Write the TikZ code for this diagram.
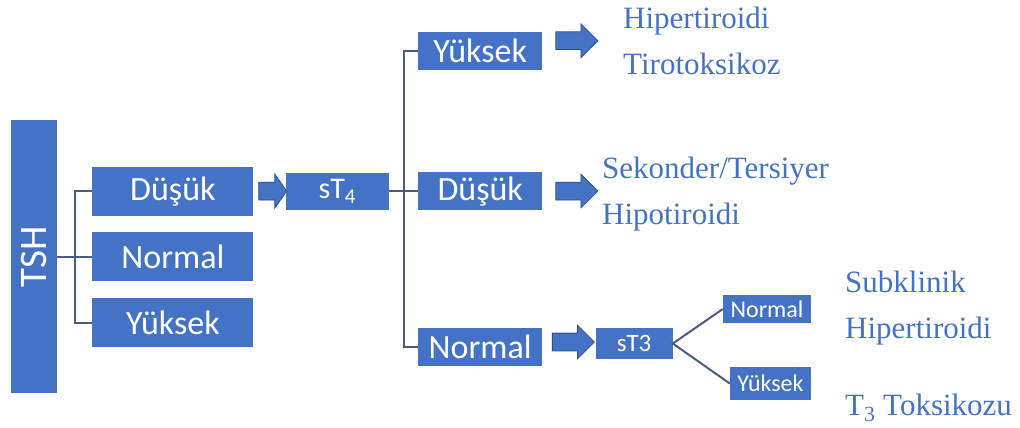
\documentclass[tikz,border=0pt]{standalone}
\usepackage{graphicx}
\usepackage{fontspec}
\setmainfont{Carlito}
\newfontfamily\resultfont{Liberation Serif}
\usetikzlibrary{positioning, shapes.arrows, calc}
\definecolor{boxblue}{HTML}{4472C4}
\definecolor{edgeblue}{HTML}{2F528F}
\definecolor{linkgray}{HTML}{4A5C85}
\newcommand{\boxfont}[1]{\fontsize{#1}{#1}\selectfont}
\newcommand{\levelgap}{16pt}
\newcommand{\arrowgap}{13pt}

\begin{document}
\begin{tikzpicture}[
    x=1pt, y=-1pt,
    tshbox/.style={
        rectangle,
        fill=boxblue,
        text=white,
        inner sep=0pt,
        minimum width=46pt,
        minimum height=273pt,
        font=\boxfont{39}
    },
    lvlbox/.style={
        rectangle,
        fill=boxblue,
        text=white,
        inner sep=0pt,
        minimum width=161pt,
        minimum height=49pt,
        font=\boxfont{34}
    },
    midbox/.style={lvlbox, minimum width=124pt, minimum height=38pt},
    testbox/.style={lvlbox, minimum width=103pt, minimum height=37pt, font=\boxfont{30}},
    tinybox/.style={lvlbox, minimum width=84pt, minimum height=30pt, font=\boxfont{24}},
    fatarrow/.style={
        single arrow,
        fill=boxblue,
        draw=edgeblue,
        line width=0.8pt,
        inner xsep=0pt,
        inner ysep=8.5pt,
        minimum width=33pt,
        minimum height=42pt,
        single arrow head extend=8pt
    },
    link/.style={draw=linkgray, line width=2pt},
    result/.style={
        anchor=north west,
        align=left,
        inner sep=0pt,
        text=boxblue,
        font=\resultfont\fontsize{31}{46}\selectfont
    }
]
    \useasboundingbox (0,0) rectangle (1020,428);

    % --- TSH and its three levels ---
    \node[tshbox] (tsh) at (34,256.5) {\rotatebox{90}{TSH}};
    \node[lvlbox, right=35pt of tsh] (normal1) {Normal};
    \node[lvlbox, above=\levelgap of normal1] (dusuk1) {Düşük};
    \node[lvlbox, below=17pt of normal1] (yuksek1) {Yüksek};

    \coordinate (tjoin) at ($(tsh.east)!0.5!(normal1.west)$);
    \draw[link] (dusuk1.west) -| (tjoin) |- (yuksek1.west);
    \draw[link] (tsh.east) -- (normal1.west);

    % --- sT4 branch ---
    \node[testbox, right=32pt of dusuk1] (st4) {sT\textsubscript{4}};
    \node[fatarrow, minimum height=28pt, single arrow tip angle=110] (arr1)
        at ($(dusuk1.east)!0.5!(st4.west)$) {};

    \node[midbox, right=29pt of st4] (dusuk2) {Düşük};
    \node[midbox, above=102pt of dusuk2] (yuksek2) {Yüksek};
    \node[midbox, below=117pt of dusuk2] (normal2) {Normal};

    \coordinate (sjoin) at ($(st4.east)!0.5!(dusuk2.west)$);
    \draw[link] (yuksek2.west) -| (sjoin) |- (normal2.west);
    \draw[link] (st4.east) -- (dusuk2.west);

    % --- outcomes of sT4 ---
    \node[fatarrow, right=\arrowgap of yuksek2, yshift=10pt] (arr2) {};
    \node[fatarrow, right=\arrowgap of dusuk2] (arr3) {};
    \node[result] (res1) at (623,7) {Hipertiroidi\\Tirotoksikoz};
    \node[result] (res2) at (602,157) {Sekonder/Tersiyer\\Hipotiroidi};

    % --- sT3 branch ---
    \node[testbox, minimum width=77pt, minimum height=31pt, font=\boxfont{25},
        right=53pt of normal2, yshift=3pt] (st3) {sT3};
    \node[fatarrow] (arr4) at ($(normal2.east)!0.5!(st3.west)+(0,-3)$) {};

    \node[tinybox, minimum width=88pt, minimum height=28pt] (normal3) at (767,309) {Normal};
    \node[tinybox, minimum width=81pt, minimum height=33pt] (yuksek3) at (770.5,383.5) {Yüksek};
    \draw[link] (normal3.west) -- (st3.east) -- (yuksek3.west);

    \node[result] (res3) at (845,271) {Subklinik\\Hipertiroidi};
    \node[result] (res4) at (845,394) {T\textsubscript{3} Toksikozu};

\end{tikzpicture}
\end{document}
